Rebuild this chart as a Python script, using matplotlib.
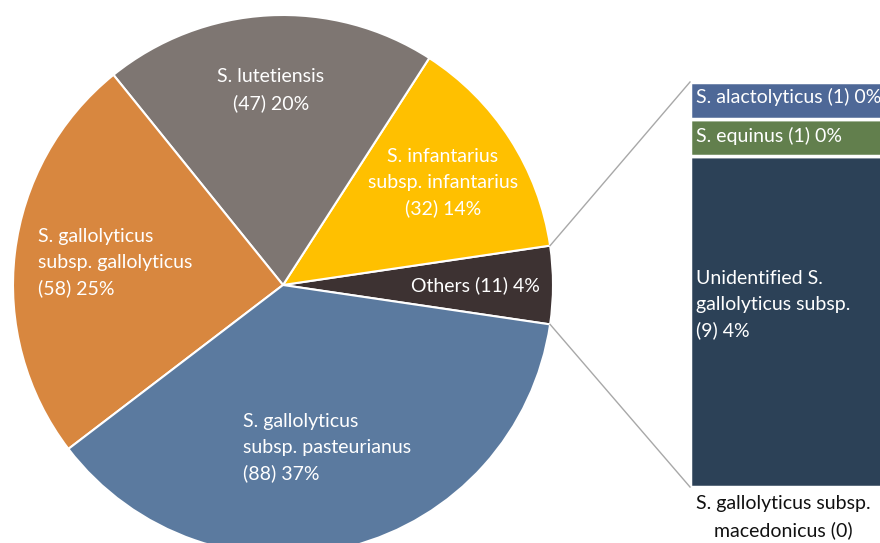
import numpy as np
import matplotlib
matplotlib.use("Agg")
import matplotlib.pyplot as plt

plt.rcParams['font.family'] = ['Lato', 'DejaVu Sans']

# ---- data ----
pie_labels = ["Others (11) 4%",
              "S. infantarius\nsubsp. infantarius\n(32) 14%",
              "S. lutetiensis\n(47) 20%",
              "S. gallolyticus\nsubsp. gallolyticus\n(58) 25%",
              "S. gallolyticus\nsubsp. pasteurianus\n(88) 37%"]
pie_values = [11, 32, 47, 58, 88]
pie_colors = ["#3D3232", "#FFC000", "#7E7672", "#D8873F", "#5B7A9F"]

bar_labels = ["Unidentified S.\ngallolyticus subsp.\n(9) 4%",
              "S. equinus (1) 0%",
              "S. alactolyticus (1) 0%"]
bar_values = [9, 1, 1]
bar_colors = ["#2C4157", "#627F4D", "#4E6897"]
zero_label = "S. gallolyticus subsp.\nmacedonicus (0)"

W, H = 880, 543
FS = 14
LS = 1.6
fig = plt.figure(figsize=(W / 100, H / 100), dpi=100)
ax = fig.add_axes([0, 0, 1, 1])

cx, cy, R = 283, H - 285, 270
others_angle = 360 * pie_values[0] / sum(pie_values)
start = -others_angle / 2
wedges, _ = ax.pie(pie_values, colors=pie_colors, startangle=start,
                   counterclock=True, center=(cx, cy), radius=R,
                   wedgeprops=dict(edgecolor='white', linewidth=1.5),
                   frame=True)
ax.set_xlim(0, W)
ax.set_ylim(0, H)
ax.set_aspect('equal')
ax.axis('off')

# label positions (screen px)
lab_pos = [(475, 285, 'center', 'center'),
           (443, 183, 'center', 'center'),
           (271, 90, 'center', 'center'),
           (38, 263, 'left', 'left'),
           (243, 448, 'left', 'left')]
for lab, (x, y, ha, ma) in zip(pie_labels, lab_pos):
    ax.text(x, H - y, lab, ha=ha, va='center', multialignment=ma,
            color='white', fontsize=FS, linespacing=LS)

# stacked bar
bx0, bw = 690, 200
btop, bbot = H - 82, H - 487
scale = (btop - bbot) / sum(bar_values)
bottom = bbot
for v, c in zip(bar_values, bar_colors):
    ax.bar(bx0, v * scale, width=bw, bottom=bottom, align='edge',
           color=c, edgecolor='white', linewidth=2.5)
    bottom += v * scale

bar_lab_y = [305, 136, 97]
for lab, y in zip(bar_labels, bar_lab_y):
    ax.text(bx0 + 6, H - y, lab, ha='left', va='center', color='white',
            fontsize=FS, linespacing=LS)

ax.text(bx0 + 93, H - 517, zero_label, ha='center', va='center',
        color='#111111', fontsize=FS, linespacing=LS)

# connector lines
a1 = np.deg2rad(start + others_angle)
a0 = np.deg2rad(start)
ax.plot([cx + R * np.cos(a1), bx0], [cy + R * np.sin(a1), btop],
        color='#A8A8A8', lw=1)
ax.plot([cx + R * np.cos(a0), bx0], [cy + R * np.sin(a0), bbot],
        color='#A8A8A8', lw=1)

fig.savefig("out.png", dpi=100)
